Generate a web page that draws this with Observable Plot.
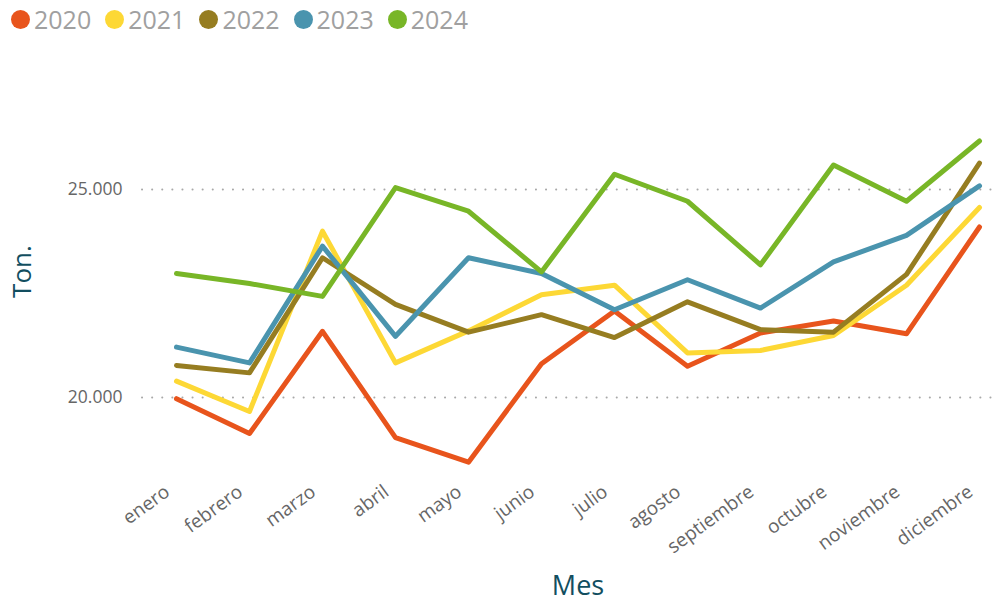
<!DOCTYPE html>
<html>
<head>
<meta charset="utf-8">
<script src="https://cdn.jsdelivr.net/npm/d3@7"></script>
<script src="https://cdn.jsdelivr.net/npm/@observablehq/plot@0.6"></script>
<style>
  html, body { margin: 0; padding: 0; background: #fff; }
  #wrap { position: relative; width: 997px; height: 604px; font-family: "Open Sans", sans-serif; }
  #legend { position: absolute; left: 11px; top: 0; height: 38px; display: flex; align-items: center; }
  .item { display: flex; align-items: center; margin-right: 14px; }
  .sw { width: 19px; height: 19px; border-radius: 50%; margin-right: 4px; }
  .lab { font-size: 25px; color: #a0a0a0; line-height: 1; }
  #chart { position: absolute; left: 0; top: 0; }
</style>
</head>
<body>
<div id="wrap">
  <div id="chart"></div>
  <div id="legend"></div>
</div>
<script>
const months = ["enero","febrero","marzo","abril","mayo","junio","julio","agosto","septiembre","octubre","noviembre","diciembre"];
const years = ["2020","2021","2022","2023","2024"];
const colors = ["#E8541C","#FDD835","#967D21","#4A94AE","#78B627"];
const yTicks = [20000, 25000];

const v2020 = [19970, 19130, 21590, 19030, 18440, 20810, 22080, 20750, 21550, 21840, 21530, 24100];
const v2021 = [20390, 19660, 24000, 20830, 21600, 22470, 22700, 21070, 21130, 21490, 22700, 24570];
const v2022 = [20770, 20590, 23360, 22240, 21570, 21990, 21440, 22300, 21630, 21570, 22960, 25640];
const v2023 = [21210, 20830, 23640, 21470, 23360, 22980, 22110, 22830, 22150, 23260, 23900, 25090];
const v2024 = [22980, 22740, 22430, 25050, 24480, 23020, 25370, 24720, 23190, 25590, 24720, 26170];

const series = [v2020, v2021, v2022, v2023, v2024];
const data = [];
series.forEach((vals, i) => vals.forEach((v, j) => data.push({mes: months[j], year: years[i], value: v})));

const es = d3.formatLocale({decimal: ",", thousands: ".", grouping: [3], currency: ["", " €"]});
const fmt = es.format(",.0f");

const chart = Plot.plot({
  width: 997,
  height: 604,
  marginLeft: 142,
  marginRight: 4,
  marginTop: 106,
  marginBottom: 124,
  style: {fontFamily: "'Open Sans', sans-serif", background: "white"},
  x: {type: "point", domain: months, range: [172, 983], padding: 0},
  y: {domain: [18000, 27000]},
  color: {domain: years, range: colors},
  marks: [
    Plot.ruleY(yTicks, {stroke: "#a8a8a8", strokeWidth: 2, strokeDasharray: "0.1 10", strokeLinecap: "round"}),
    Plot.axisY({ticks: yTicks, tickSize: 0, tickPadding: 20, tickFormat: fmt, fontSize: 17.5, color: "#666", label: null}),
    Plot.axisX({tickSize: 0, tickPadding: 9, dx: -9, tickRotate: -36, fontSize: 19, color: "#666", label: null}),
    Plot.line(data, {x: "mes", y: "value", z: "year", stroke: "year", strokeWidth: 5, strokeLinejoin: "round", strokeLinecap: "round"}),
    Plot.text(["Ton."], {frameAnchor: "left", dx: -120, dy: -22, rotate: -90, textAnchor: "middle", lineAnchor: "middle", fontSize: 26, fill: "#124e5f"}),
    Plot.text(["Mes"], {frameAnchor: "bottom", dx: 10, dy: 114, textAnchor: "middle", lineAnchor: "bottom", fontSize: 27, fill: "#124e5f"})
  ]
});
document.getElementById("chart").appendChild(chart);

const legend = document.getElementById("legend");
years.forEach((y, i) => {
  const item = document.createElement("div");
  item.className = "item";
  const sw = document.createElement("div");
  sw.className = "sw";
  sw.style.background = colors[i];
  const lab = document.createElement("span");
  lab.className = "lab";
  lab.textContent = y;
  item.appendChild(sw);
  item.appendChild(lab);
  legend.appendChild(item);
});
</script>
</body>
</html>
